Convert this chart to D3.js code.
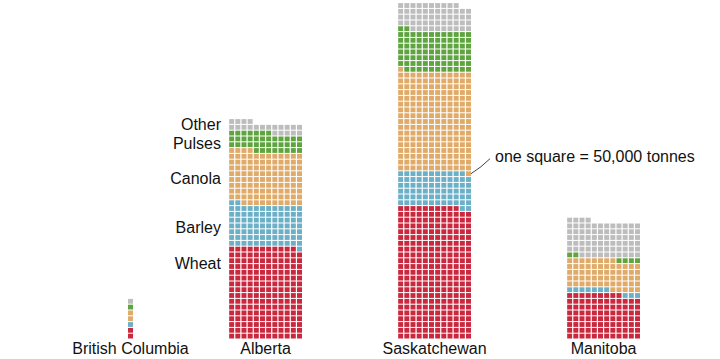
<!DOCTYPE html>
<html>
<head>
<meta charset="utf-8">
<script src="https://cdn.jsdelivr.net/npm/d3@7"></script>
<style>
  body { margin: 0; background: #fff; }
  text { font-family: "Liberation Sans", Arial, sans-serif; fill: #111; }
</style>
</head>
<body>
<div id="chart"></div>
<script>
// one square = 50,000 tonnes, counts per province
var provinces = ["British Columbia", "Alberta", "Saskatchewan", "Manitoba"];
var crops = ["Wheat", "Barley", "Canola", "Pulses", "Other"];
var wheat  = [2, 191, 274, 93];
var barley = [1, 87, 73, 10];
var canola = [2, 110, 206, 61];
var pulses = [1, 39, 85, 6];
var other  = [1, 21, 56, 74];
var note = "one square = 50,000 tonnes";

var width = 720, height = 359;
var px = 6.17, py = 5.8;   // cell pitch
var bottom = 339.5;

var colors = d3.scaleOrdinal()
  .domain(crops)
  .range(["#c9283e", "#6cb0c8", "#e0aa68", "#5ea43f", "#bdbdbd"]);

// BC is tiny so it gets a single column
function ncols(p) { return p == "British Columbia" ? 1 : 12; }

var x = d3.scalePoint().domain(provinces).range([133, 640]);   // right edge of each waffle
var y = d3.scaleLinear().domain([0, 1]).range([bottom, bottom - py]);

var svg = d3.select("#chart").append("svg")
  .attr("width", width)
  .attr("height", height);

var series = [wheat, barley, canola, pulses, other];

function buildCells(i) {
  var p = provinces[i], n = ncols(p), cells = [], k = 0;
  crops.forEach(function(c, j) {
    for (var m = 0; m < series[j][i]; m++) {
      cells.push({ province: p, crop: c, k: k, row: Math.floor(k / n), col: k % n, n: n });
      k++;
    }
  });
  return cells;
}

var allCells = [];
provinces.forEach(function(p, i) { allCells = allCells.concat(buildCells(i)); });

function cellX(d) { return x(d.province) - (d.n - d.col) * px + 1.2; }
function cellY(d) { return y(d.row + 1); }

svg.append("g").selectAll("rect")
  .data(allCells)
  .enter().append("rect")
  .attr("x", cellX)
  .attr("y", cellY)
  .attr("width", px - 1.2)
  .attr("height", py - 1)
  .attr("fill", function(d) { return colors(d.crop); });

// province labels, centred under each waffle
svg.append("g").selectAll("text")
  .data(provinces)
  .enter().append("text")
  .attr("x", function(p) { return x(p) - ncols(p) * px / 2 + 0.6; })
  .attr("y", 354)
  .attr("text-anchor", "middle")
  .style("font-size", "16px")
  .text(function(p) { return p; });

// crop labels beside Alberta
var ab = allCells.filter(function(d) { return d.province == "Alberta"; });
var abLeft = x("Alberta") - 12 * px;
svg.append("g").selectAll("text")
  .data(crops)
  .enter().append("text")
  .attr("x", abLeft - 7)
  .attr("y", function(c, j) {
    var seg = ab.filter(function(d) { return d.crop == c; });
    var top = d3.max(seg, function(d) { return d.row; });
    var bot = d3.min(seg, function(d) { return d.row; });
    if (j == 0) return y(top + 1) + 17;
    if (j == crops.length - 1) return y(top + 1) + 5;
    return (y(top + 1) + y(bot)) / 2 + 1;
  })
  .attr("dy", "0.35em")
  .attr("text-anchor", "end")
  .style("font-size", "16px")
  .text(function(c) { return c; });

// annotation pointing at a single square
var sk = allCells.filter(function(d) { return d.province == "Saskatchewan"; });
var target = sk[wheat[2] + barley[2]];
var tx = cellX(target) + px - 1.2, ty = cellY(target) + (py - 1) / 2;

svg.append("path")
  .attr("d", "M" + tx + "," + ty + " L" + (tx + 10) + "," + (ty - 7) + " L" + (tx + 19) + "," + (ty - 15))
  .attr("fill", "none")
  .attr("stroke", "#444")
  .attr("stroke-width", 1);

svg.append("text")
  .attr("x", tx + 24)
  .attr("y", ty - 17)
  .attr("dy", "0.35em")
  .style("font-size", "16px")
  .text(note);
</script>
</body>
</html>
